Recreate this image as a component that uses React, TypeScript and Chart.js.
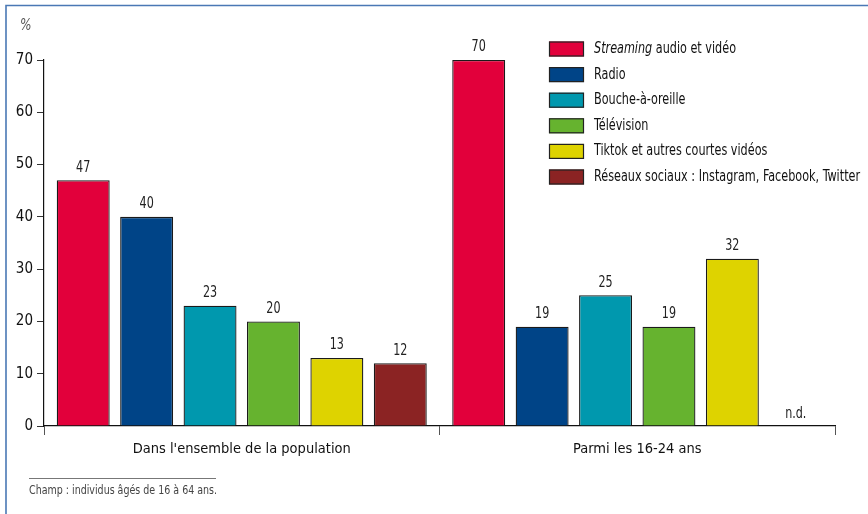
import React, { useEffect, useRef } from "react";
import { Chart, registerables } from "chart.js";

Chart.register(...registerables);

const categories = ["Dans l'ensemble de la population", "Parmi les 16-24 ans"];
const seriesNames = [
  "Streaming audio et vidéo",
  "Radio",
  "Bouche-à-oreille",
  "Télévision",
  "Tiktok et autres courtes vidéos",
  "Réseaux sociaux : Instagram, Facebook, Twitter",
];
const streaming = [47, 70];
const radio = [40, 19];
const boucheAOreille = [23, 25];
const television = [20, 19];
const tiktok = [13, 32];
const reseauxSociaux: (number | null)[] = [12, null];
const colors = ["#e2003b", "#004487", "#0098ae", "#66b32f", "#ded300", "#8b2323"];
const yTicks = [0, 10, 20, 30, 40, 50, 60, 70];
const footnote = "Champ : individus âgés de 16 à 64 ans.";
const unitLabel = "%";
const naLabel = "n.d.";

const FONT = "'DejaVu Sans Condensed', 'Liberation Sans Narrow', 'Noto Sans', sans-serif";

function drawText(ctx: any, text: string, x: number, y: number, font: string, align: string, sx: number) {
  ctx.save();
  ctx.font = font;
  ctx.textAlign = "left";
  const w = ctx.measureText(text).width * sx;
  let x0 = x;
  if (align === "center") x0 = x - w / 2;
  else if (align === "right") x0 = x - w;
  ctx.translate(x0, y);
  ctx.scale(sx, 1);
  ctx.fillText(text, 0, 0);
  ctx.restore();
  return w;
}

const overlayPlugin = {
  id: "overlay",
  afterDatasetsDraw(chart: any) {
    const ctx = chart.ctx;
    const xScale = chart.scales.x;
    ctx.save();
    ctx.fillStyle = "#222";
    ctx.textBaseline = "bottom";
    const f = `15.5px ${FONT}`;
    chart.data.datasets.forEach((ds: any, di: number) => {
      const meta = chart.getDatasetMeta(di);
      meta.data.forEach((el: any, i: number) => {
        const v = ds.data[i];
        if (v === null || v === undefined) {
          const ref = meta.data[0];
          const x = ref.x - xScale.getPixelForValue(0) + xScale.getPixelForValue(i);
          drawText(ctx, naLabel, x, chart.scales.y.getPixelForValue(0) - 4, f, "center", 0.8);
        } else {
          drawText(ctx, String(v), el.x, el.y - 5, f, "center", 0.8);
        }
      });
    });
    ctx.restore();
  },
  afterDraw(chart: any) {
    const ctx = chart.ctx;
    ctx.save();
    // frame
    ctx.strokeStyle = "#4a78b5";
    ctx.lineWidth = 1.6;
    ctx.beginPath();
    ctx.moveTo(6, chart.height);
    ctx.lineTo(6, 5.5);
    ctx.lineTo(chart.width, 5.5);
    ctx.stroke();
    // unit
    ctx.fillStyle = "#555";
    ctx.textBaseline = "middle";
    drawText(ctx, unitLabel, 20, 26, `italic 15px ${FONT}`, "left", 0.9);
    // legend
    const lx = 549;
    const ly0 = 49;
    const step = 25.6;
    const sx = 0.805;
    seriesNames.forEach((name, i) => {
      const cy = ly0 + i * step;
      ctx.fillStyle = colors[i];
      ctx.fillRect(lx, cy - 7.5, 35, 15);
      ctx.strokeStyle = "#222";
      ctx.lineWidth = 1.2;
      ctx.strokeRect(lx + 0.5, cy - 7, 34, 14);
      ctx.fillStyle = "#111";
      ctx.textBaseline = "middle";
      if (i === 0) {
        const w1 = drawText(ctx, "Streaming", 594, cy, `italic 15.5px ${FONT}`, "left", sx);
        drawText(ctx, " audio et vidéo", 594 + w1, cy, `15.5px ${FONT}`, "left", sx);
      } else {
        drawText(ctx, name, 594, cy, `15.5px ${FONT}`, "left", sx);
      }
    });
    // footnote
    ctx.strokeStyle = "#777";
    ctx.lineWidth = 1;
    ctx.beginPath();
    ctx.moveTo(29, 478.5);
    ctx.lineTo(216, 478.5);
    ctx.stroke();
    ctx.fillStyle = "#444";
    ctx.textBaseline = "middle";
    drawText(ctx, footnote, 29, 491, `12px ${FONT}`, "left", 0.88);
    ctx.restore();
  },
};

export default function App() {
  const ref = useRef<HTMLCanvasElement | null>(null);
  useEffect(() => {
    document.body.style.margin = "0";
    const series = [streaming, radio, boucheAOreille, television, tiktok, reseauxSociaux];
    const chart = new Chart(ref.current!, {
      type: "bar",
      data: {
        labels: categories,
        datasets: series.map((d, i) => ({
          label: seriesNames[i],
          data: d,
          backgroundColor: colors[i],
          borderColor: "#1a1a1a",
          borderWidth: 1.3,
          categoryPercentage: 0.962,
          barPercentage: 0.835,
        })),
      },
      options: {
        responsive: false,
        animation: false,
        devicePixelRatio: 1,
        layout: { padding: { top: 60, right: 33, left: 0, bottom: 0 } },
        plugins: { legend: { display: false }, tooltip: { enabled: false } },
        scales: {
          x: {
            afterFit: (s: any) => {
              s.height = 88;
            },
            grid: {
              drawOnChartArea: false,
              drawTicks: true,
              tickLength: 9,
              color: "#555",
              offset: true,
            },
            border: { display: true, color: "#111", width: 1.2 },
            ticks: {
              color: "#111",
              font: { family: FONT, size: 14.5 },
              padding: 6,
              maxRotation: 0,
            },
          },
          y: {
            min: 0,
            max: 70,
            afterFit: (s: any) => {
              s.width = 44;
            },
            afterBuildTicks: (s: any) => {
              s.ticks = yTicks.map((v) => ({ value: v }));
            },
            grid: {
              drawOnChartArea: false,
              drawTicks: true,
              tickLength: 7,
              color: "#333",
            },
            border: { display: true, color: "#111", width: 1.2 },
            ticks: {
              color: "#111",
              font: { family: FONT, size: 15 },
              padding: 4,
            },
          },
        },
      },
      plugins: [overlayPlugin],
    });
    return () => chart.destroy();
  }, []);
  return <canvas ref={ref} width={868} height={514} style={{ display: "block" }} />;
}
